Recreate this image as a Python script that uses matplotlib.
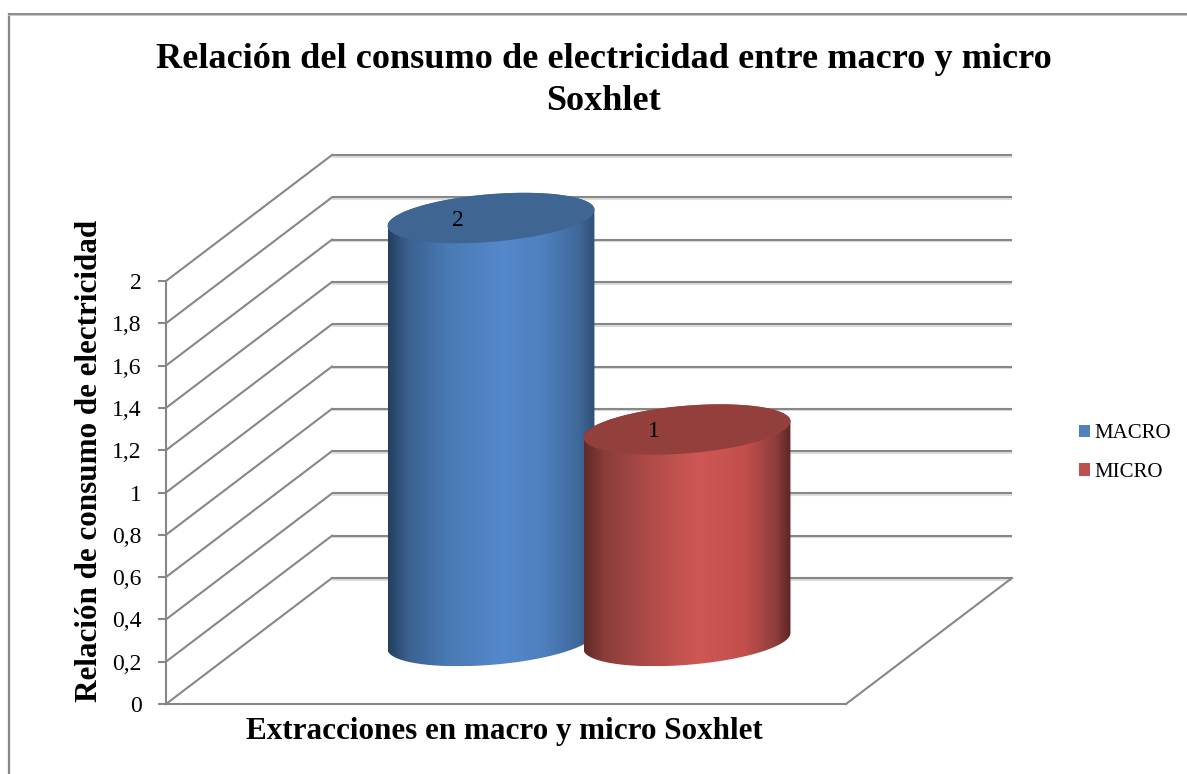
import numpy as np
import matplotlib
matplotlib.use("Agg")
import matplotlib.pyplot as plt
import matplotlib.patheffects as pe
from matplotlib.colors import LinearSegmentedColormap
from matplotlib.lines import Line2D
from matplotlib.patches import Patch, PathPatch, Polygon
from matplotlib.path import Path

series = ["MACRO", "MICRO"]
valores = [2, 1]
etiquetas = ["2", "1"]
ticks = [0, 0.2, 0.4, 0.6, 0.8, 1, 1.2, 1.4, 1.6, 1.8, 2]
tick_labels = ["0", "0,2", "0,4", "0,6", "0,8", "1", "1,2", "1,4", "1,6", "1,8", "2"]

titulo = "Relación del consumo de electricidad entre macro y micro\nSoxhlet"
xlabel = "Extracciones en macro y micro Soxhlet"
ylabel = "Relación de consumo de electricidad"

GRIS = "#878787"
W, H = 1187, 774

# sombreado de cada cilindro, de izquierda a derecha
colores_lado = [
    [(0, "#243f5f"), (0.1, "#3b6292"), (0.3, "#4a7bb5"), (0.55, "#5588cc"),
     (0.75, "#4e80bf"), (0.92, "#40699a"), (1, "#2f4f78")],
    [(0, "#5f2a29"), (0.1, "#8a3d3a"), (0.3, "#ad4a47"), (0.55, "#cf5755"),
     (0.78, "#c24f4c"), (0.93, "#8d3d3b"), (1, "#5a2624")],
]
colores_tapa = ["#3f6592", "#933f3b"]
colores_leyenda = ["#4f81bd", "#c0504d"]

plt.rcParams["font.family"] = ["Liberation Serif", "DejaVu Serif"]

fig = plt.figure(figsize=(W / 100, H / 100), dpi=100)
ax = fig.add_axes([166 / W, 1 - 704 / H, 680 / W, 423 / H])

# una categoria son 196 px; el fondo del grafico esta desplazado en x y en y
ax.set_xlim(-242 / 196, 438 / 196)
ax.set_ylim(0, 2)
DX = 166 / 196
DY = 126 / 211.5
R_FONDO = 0.2
R_X = 0.5


def proyecta(x, v, d):
    return x + d * DX, v + d * DY


# paredes y suelo
for t in ticks:
    x0 = ax.get_xlim()[0]
    x1 = ax.get_xlim()[1]
    xa, va = proyecta(x0, t, 1)
    xb, vb = proyecta(x1, t, 1)
    ax.plot([x0, xa], [t, va], color=GRIS, lw=1.5, clip_on=False, zorder=1)
    ax.plot([xa, xb], [va, vb], color=GRIS, lw=1.5, clip_on=False, zorder=1,
            solid_capstyle="butt",
            path_effects=[pe.SimpleLineShadow(offset=(0, -1.2), shadow_color="#dcdcdc", alpha=1),
                          pe.Normal()])
xa, va = proyecta(ax.get_xlim()[1], 0, 1)
ax.plot([ax.get_xlim()[1], xa], [0, va], color=GRIS, lw=1.5, clip_on=False, zorder=1)


def cilindro(i, valor):
    x = i
    t0 = np.arctan2(R_FONDO * DX, R_X)
    abajo = t0 + np.linspace(np.pi, 2 * np.pi, 80)
    arriba = t0 + np.linspace(0, np.pi, 80)
    todo = np.linspace(0, 2 * np.pi, 160)

    def elipse(t, v):
        return (x + 0.5 * DX + R_X * np.cos(t) + R_FONDO * DX * np.sin(t),
                v + 0.5 * DY + R_FONDO * DY * np.sin(t))

    xs1, vs1 = elipse(abajo, 0)
    xs2, vs2 = elipse(arriba, valor)
    borde = np.column_stack([np.r_[xs1, xs2], np.r_[vs1, vs2]])
    borde = np.vstack([borde, borde[:1]])
    clip = PathPatch(Path(borde), transform=ax.transData)

    cmap = LinearSegmentedColormap.from_list("lado%d" % i, colores_lado[i])
    grad = np.linspace(0, 1, 256).reshape(1, -1)
    im = ax.imshow(grad, cmap=cmap, aspect="auto", interpolation="bilinear",
                   extent=[borde[:, 0].min(), borde[:, 0].max(), borde[:, 1].min(), borde[:, 1].max()],
                   zorder=3 + i)
    im.set_clip_path(clip)
    im.set_clip_box(fig.bbox)

    xt, vt = elipse(todo, valor)
    ax.add_patch(Polygon(np.column_stack([xt, vt]), closed=True, facecolor=colores_tapa[i],
                         edgecolor="none", clip_on=False, zorder=3 + i))

    cx, cv = proyecta(x, valor, 0.5)
    ax.annotate(etiquetas[i], xy=(cx, cv), xytext=(-24, -1.5), textcoords="offset points",
                ha="center", va="center", fontsize=17, color="black", zorder=6,
                annotation_clip=False)


for i, v in enumerate(valores):
    cilindro(i, v)

ax.set_xlim(-242 / 196, 438 / 196)
ax.set_ylim(0, 2)

ax.patch.set_visible(False)
for lado in ["top", "right"]:
    ax.spines[lado].set_visible(False)
for lado in ["left", "bottom"]:
    ax.spines[lado].set_color(GRIS)
    ax.spines[lado].set_linewidth(1.5)
    ax.spines[lado].set_zorder(2)
ax.set_xticks([])
ax.set_yticks(ticks)
ax.set_yticklabels(tick_labels, fontsize=17)
ax.tick_params(axis="y", length=6, width=1.5, color=GRIS, pad=11.5)

fig.text(603.5 / W, 1 - 60 / H, titulo.split("\n")[0], ha="center", va="center",
         fontsize=26.1, fontweight="bold")
fig.text(603.5 / W, 1 - 102 / H, titulo.split("\n")[1], ha="center", va="center",
         fontsize=26.1, fontweight="bold")
fig.text(504.5 / W, 1 - 732 / H, xlabel, ha="center", va="center", fontsize=22.4, fontweight="bold")
fig.text(90 / W, 1 - 460.5 / H, ylabel, ha="center", va="center", rotation=90,
         fontsize=22.4, fontweight="bold")

handles = [Patch(facecolor=c, edgecolor="none") for c in colores_leyenda]
fig.legend(handles, series, loc="center left", bbox_to_anchor=(1079 / W, 1 - 453 / H),
           frameon=False, fontsize=15, handlelength=0.53, handleheight=0.53,
           handletextpad=0.2, labelspacing=0.95, borderpad=0, borderaxespad=0)

# marco exterior, abierto por la derecha y por abajo
fig.add_artist(Line2D([9 / W, 9 / W], [0, 1 - 14 / H], color=GRIS, lw=1.6))
fig.add_artist(Line2D([9 / W, 1], [1 - 14 / H, 1 - 14 / H], color=GRIS, lw=1.3,
                      path_effects=[pe.SimpleLineShadow(offset=(0, -1), shadow_color="#c4c4c4", alpha=1),
                                    pe.Normal()]))

fig.savefig("out.png", dpi=100)
